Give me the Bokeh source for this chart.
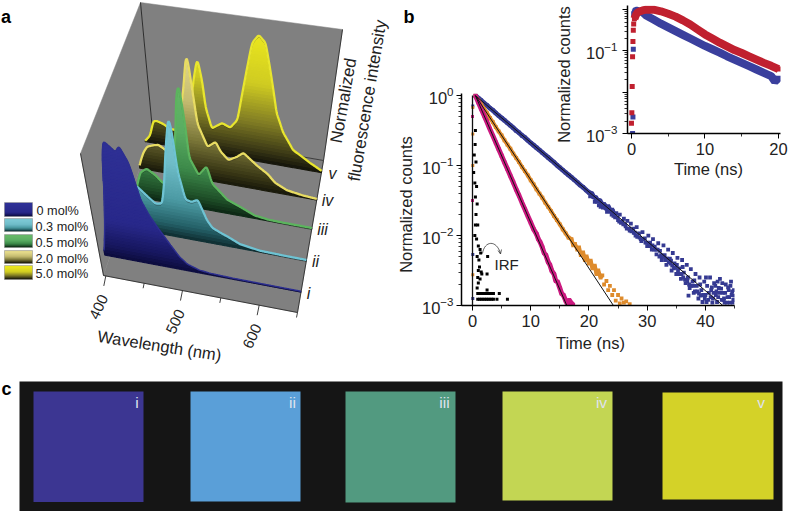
from bokeh.plotting import figure
from bokeh.models import Range1d, SingleIntervalTicker, LogTicker
from bokeh.core.properties import value
from bokeh.embed import file_html
from bokeh.resources import INLINE
import numpy as np

FONT = "Liberation Sans"

# ---------- panel a data: wavelength (nm), normalized intensity
w_i   = [390,397,403,408,412,418,425,430,439,448,456,465,480,490,500,515,530,560,600,650]
I_i   = [0.02,0.25,0.5,0.8,0.95,0.92,0.875,0.93,0.80,0.51,0.40,0.31,0.18,0.10,0.05,0.02,0.01,0.005,0.004,0.003]
w_ii  = [408,414,420,427,438,449,458,463,469,475,478,481,489,497,505,516,523,535,544,560,587,620,650]
I_ii  = [0.02,0.18,0.30,0.35,0.29,0.235,0.245,0.41,0.71,0.96,0.83,0.54,0.31,0.30,0.325,0.175,0.12,0.09,0.07,0.03,0.008,0.004,0.003]
w_iii = [405,410,415,424,435,445,452,460,467,470,474,480,482,494,505,512,532,550,570,590,610,650]
I_iii = [0.02,0.12,0.20,0.24,0.20,0.145,0.17,0.30,0.59,0.85,0.965,0.60,0.39,0.26,0.34,0.21,0.105,0.066,0.02,0.006,0.004,0.003]
w_iv  = [397,399,405,411,420,427,436,445,455,466,470,472,477,482,495,506,513,523.5,535,544,563,578,590,607,630,650]
I_iv  = [0.01,0.05,0.13,0.18,0.20,0.21,0.18,0.17,0.30,0.70,0.92,0.96,0.69,0.43,0.26,0.31,0.24,0.185,0.22,0.26,0.18,0.13,0.07,0.03,0.012,0.005]
w_v   = [392,400,407,412,421,430,440,450,460,467,472,478,481.5,490,504.5,516,526,533,542,550,559,567,579,590,606,632,650]
I_v   = [0.0,0.05,0.17,0.175,0.16,0.13,0.13,0.17,0.30,0.57,0.72,0.54,0.35,0.19,0.245,0.22,0.29,0.555,0.90,0.97,0.915,0.71,0.39,0.25,0.13,0.055,0.01]
roman = ["i","ii","iii","iv","v"]
depths = [0.134,0.34,0.55,0.74,0.92]
legend_labels = ["0 mol%","0.3 mol%","0.5 mol%","2.0 mol%","5.0 mol%"]
wave_ticks = [400,450,500,550,600,650]
wave_labels = ["400","500","600"]

# ---------- panel b data: time (ns), log10 of normalized counts
blue_t = [0.5,1,1.5,2,2.5,3,3.5,4,4.5,5,5.5,6,6.5,7,7.5,8,8.5,9,9.5,10,10.5,11,11.5,12,12.5,13,13.5,14,14.5,15,15.5,16,16.5,17,17.5,18,18.5,19,19.5,20,
  20.5,20.8,21.2,21.5,21.9,22.2,22.6,23,23.3,23.7,24,24.3,24.7,25,25.3,25.7,26,26.3,26.6,27,27.2,27.6,28,28.2,28.6,29,29.2,29.6,30,30.2,30.5,30.8,31,31.3,31.6,31.9,32.2,32.5,32.8,33,33.3,33.6,33.9,34.2,34.4,34.7,35,35.2,35.5,35.8,36,36.3,36.6,36.8,37,37.3,37.5,37.8,38,38.3,38.5,38.8,39,39.3,39.5,39.8,40,40.3,40.5,40.8,41,41.2,41.5,41.8,42,42.3,42.5,42.8,43,43.3,43.5,43.8,44,44.2,44.5,44.8,44.9]
blue_e = [0,-.035,-.07,-.108,-.14,-.18,-.21,-.25,-.285,-.32,-.355,-.39,-.425,-.46,-.5,-.53,-.57,-.6,-.64,-.675,-.71,-.745,-.78,-.815,-.85,-.885,-.92,-.955,-.995,-1.03,-1.065,-1.1,-1.135,-1.17,-1.205,-1.24,-1.28,-1.31,-1.35,-1.385,
  -1.40,-1.45,-1.46,-1.50,-1.50,-1.56,-1.55,-1.62,-1.58,-1.66,-1.63,-1.71,-1.68,-1.78,-1.70,-1.80,-1.76,-1.87,-1.79,-1.93,-1.83,-1.90,-2.00,-1.88,-1.97,-2.08,-1.95,-2.04,-2.15,-2.0,-2.1,-2.2,-2.05,-2.16,-2.27,-2.11,-2.22,-2.35,-2.14,-2.28,-2.42,-2.2,-2.33,-2.5,-2.25,-2.4,-2.55,-2.32,-2.47,-2.62,-2.35,-2.53,-2.68,-2.42,-2.6,-2.75,-2.48,-2.66,-2.82,-2.55,-2.72,-2.9,-2.6,-2.78,-2.95,-2.66,-2.85,-2.72,-2.92,-2.6,-2.78,-2.96,-2.68,-2.85,-2.95,-2.75,-2.62,-2.92,-2.82,-2.96,-2.7,-2.88,-2.78,-2.96,-2.85,-2.92,-2.78]
blue2_t = [20.2,20.7,21,21.4,21.7,22,22.4,22.8,23.1,23.5,23.9,24.2,24.5,24.9,25.2,25.5,25.9,26.2,26.5,26.9,27.3,27.7,27.9,28.3,28.7,28.9,29.3,29.7,29.9,30.3,30.6,30.9,31.2,31.5,31.8,32.1,32.4,32.7,33.1,33.4,33.7,34,34.3,34.6,34.9,35.3,35.6,35.9,36.2,36.5,36.9,37.2,37.6,37.9,38.2,38.6,38.9,39.2,39.6,39.9,40.2,40.6,40.9,41.1,41.4,41.7,41.9,42.2,42.4,42.7,42.9,43.2,43.4,43.7,43.9,44.1,44.3,44.6,44.7,44.95,
  37.1,38.1,39.1,40.1,41.3,42.1,43.1,44.4,36.1,35.1,34.1,33.2]
blue2_e = [-1.44,-1.44,-1.52,-1.52,-1.57,-1.59,-1.6,-1.6,-1.66,-1.64,-1.7,-1.72,-1.74,-1.74,-1.8,-1.82,-1.84,-1.84,-1.9,-1.9,-1.94,-1.96,-1.96,-2.02,-2.03,-2.05,-2.05,-2.1,-2.1,-2.13,-2.15,-2.14,-2.2,-2.2,-2.2,-2.3,-2.28,-2.3,-2.35,-2.33,-2.38,-2.4,-2.43,-2.47,-2.46,-2.5,-2.55,-2.55,-2.6,-2.63,-2.65,-2.7,-2.72,-2.72,-2.8,-2.8,-2.83,-2.86,-2.85,-2.9,-2.95,-2.82,-2.88,-2.74,-2.82,-2.72,-2.8,-2.88,-2.82,-2.76,-2.68,-2.9,-2.82,-2.96,-2.74,-2.88,-2.72,-2.8,-2.96,-2.86,
  -2.86,-2.64,-2.7,-2.6,-2.9,-2.66,-2.92,-2.66,-2.45,-2.42,-2.36,-2.33]
orange_t = [0.5,1,1.5,2,2.5,3,3.5,4,4.5,5,5.5,6,6.5,7,7.5,8,8.5,9,9.5,10,10.5,11,11.5,12,12.5,13,13.5,14,14.5,15,15.5,16,16.5,
  17,17.3,17.6,18,18.3,18.6,19,19.3,19.6,20,20.3,20.6,21,21.3,21.6,22,22.3,22.6,23,23.3,23.6,24,24.3,24.6,25,25.3,25.6,26,26.4,27]
orange_e = [0,-.06,-.13,-.19,-.25,-.32,-.38,-.45,-.51,-.57,-.64,-.7,-.76,-.83,-.89,-.95,-1.02,-1.08,-1.14,-1.21,-1.27,-1.34,-1.4,-1.46,-1.53,-1.59,-1.65,-1.72,-1.78,-1.84,-1.91,-1.97,-2.03,
  -2.05,-2.14,-2.12,-2.2,-2.17,-2.28,-2.24,-2.35,-2.3,-2.4,-2.36,-2.47,-2.43,-2.55,-2.5,-2.6,-2.57,-2.7,-2.65,-2.78,-2.72,-2.85,-2.78,-2.93,-2.85,-2.97,-2.9,-2.96,-2.94,-2.98]
magenta_t = [0.5,1,1.5,2,2.5,3,3.5,4,4.5,5,5.5,6,6.5,7,7.5,8,8.5,9,9.5,10,10.5,
  11,11.3,11.6,12,12.3,12.6,13,13.3,13.6,14,14.3,14.6,15,15.3,15.6,16,16.3,16.6,17,17.3]
magenta_e = [0,-.095,-.19,-.285,-.38,-.48,-.575,-.67,-.765,-.86,-.955,-1.05,-1.145,-1.24,-1.34,-1.43,-1.53,-1.625,-1.72,-1.815,-1.91,
  -1.98,-2.05,-2.09,-2.17,-2.25,-2.28,-2.38,-2.42,-2.5,-2.55,-2.65,-2.66,-2.75,-2.83,-2.85,-2.93,-2.98,-2.92,-2.97,-2.99]
rise_blue_e = [-0.15,-2.27,-2.9]
rise_orange_e = [-0.17,-0.55,-1.0,-2.56]
rise_magenta_e = [-0.3,-1.5]
irf_t = [.5,.45,.3,.6,.2,.4,.7,.5,.8,.6,.5,.4,.9,.7,1.0,1.3,.8,1.4,1.1,2.6,1.2,1.0,1.5,.9,1.3,1.6,2.5,1.0,.8,2.5,
  .9,1.2,1.5,1.8,2.1,2.4,2.7,3.0,3.3,3.6,4.6,.9,1.2,1.5,1.8,2.1,2.4,2.7,3.0,3.3,3.6,4.2,6.0]
irf_e = [-.5,-.7,-.85,-.95,-1.1,-1.25,-1.3,-1.45,-1.55,-1.7,-1.85,-2.0,-1.85,-2.05,-2.15,-2.2,-2.3,-2.25,-2.35,-2.3,-2.45,-2.5,-2.52,-2.6,-2.62,-2.55,-2.55,-2.68,-2.75,-2.78,
  -2.83,-2.83,-2.83,-2.83,-2.83,-2.83,-2.83,-2.83,-2.83,-2.83,-2.83,-2.91,-2.91,-2.91,-2.91,-2.91,-2.91,-2.91,-2.91,-2.91,-2.91,-2.91,-2.91]
fit_blue_t = [0.5,43.0];    fit_blue_e = [0,-3]
fit_orange_t = [0.5,24.2];  fit_orange_e = [0,-3]
fit_magenta_t = [0.5,16.2]; fit_magenta_e = [0,-3]

ins_blue_t = [.15,.2,.25,.3,.4,.6,.8,1,1.5,2,3,4,5,6,7,8,9,10,11,12,13,14,15,16,17,18,19,19.5,20]
ins_blue_e = [-3,-2.6,-.96,-.1,-.05,-.03,-.03,-.04,-.06,-.14,-.24,-.34,-.43,-.52,-.61,-.70,-.79,-.88,-.96,-1.04,-1.13,-1.21,-1.29,-1.37,-1.45,-1.53,-1.61,-1.74,-1.66]
ins_red_t = [.0,.05,.1,.15,.2,.25,.3,.4,.6,.8,1,1.5,2,2.5,3,4,5,6,7,8,9,10,11,12,13,14,15,16,17,18,19,20]
ins_red_e = [-2.75,-2.5,-1.86,-1.14,-.77,-.5,-.35,-.22,-.13,-.08,-.05,-.02,0,0,0,-.04,-.1,-.17,-.26,-.36,-.48,-.6,-.7,-.8,-.89,-.98,-1.05,-1.13,-1.21,-1.29,-1.36,-1.44]

# ---------- panel c data
tile_left = [33,190,345,502,662]
tile_right = [143,300,455,612,773]
tile_top = [391,391,391,391,392]
tile_bottom = [501.5,501,502,500,499]
tile_colors = ["#3c3692","#5a9fd8","#529a80","#c3d653","#d4d228"]
tile_label_x = [136.5,292,444,601,760.5]

# ---------- 3-D projection of panel a (wall geometry, screen pixels)
D=np.array([103.,275.]); G=np.array([297.,312.]); C=np.array([152.,130.]); F=np.array([323.,160.])
def project(w, z, d):
    f=(np.asarray(w,float)-397)/253.0
    z=np.asarray(z,float)
    bx=(1-d)*(D[0]+f*(G[0]-D[0]))+d*(C[0]+f*(F[0]-C[0]))
    by=(1-d)*(D[1]+f*(G[1]-D[1]))+d*(C[1]+f*(F[1]-C[1]))
    vx=-23+11*d+31*f
    vy=-122-6*d-2.5*f
    return bx+z*vx, by+z*vy

def lerp_color(stops, z):
    zs=[s[0] for s in stops]
    out=[]
    for k in (1,3,5):
        out.append(np.interp(z,zs,[int(s[1][k:k+2],16) for s in stops]))
    return "#%02x%02x%02x"%tuple(int(round(v)) for v in out)

cmaps=[
 [(0,"#0c0c3c"),(.1,"#17175f"),(.3,"#28288a"),(1,"#2f3196")],
 [(0,"#0d2a2e"),(.1,"#245f66"),(.3,"#4b9aa3"),(.6,"#70bdc9"),(1,"#7cc8d4")],
 [(0,"#0c2513"),(.1,"#1f5029"),(.3,"#3d8a4a"),(.6,"#5aad62"),(1,"#66b868")],
 [(0,"#17170a"),(.1,"#3a3816"),(.3,"#7a7638"),(.6,"#c4bb70"),(1,"#e6dc8c")],
 [(0,"#12120a"),(.1,"#3c3a16"),(.3,"#807c24"),(.6,"#cfcb22"),(1,"#ece81e")],
]
line_cols=["#2d2f90","#6ec3d3","#5cb45e","#e8dc62","#e8e52e"]
spectra=[(w_i,I_i),(w_ii,I_ii),(w_iii,I_iii),(w_iv,I_iv),(w_v,I_v)]

def at(x,y):
    return {"position":"absolute","left":f"{x}px","top":f"{y}px"}

bg=figure(width=788,height=511,x_range=Range1d(0,788),y_range=Range1d(511,0),
          output_backend="svg",toolbar_location=None,min_border=0,
          x_axis_location=None,y_axis_location=None,styles=at(0,0))
bg.grid.visible=False
bg.outline_line_color=None
bg.background_fill_color="white"

GRAY="#808080"
def wall(pts):
    bg.patch([p[0] for p in pts],[p[1] for p in pts],fill_color=GRAY,line_color=GRAY,line_width=.5)
A=(80,153); B=(140,2); E=(342,29)
wall([A,B,tuple(C),tuple(D)])
wall([B,E,tuple(F),tuple(C)])
wall([tuple(D),tuple(G),tuple(F),tuple(C)])
bg.line([B[0],C[0]],[B[1],C[1]],line_color="#222222",line_width=.9)
bg.line([A[0],D[0],G[0],F[0],E[0]],[A[1],D[1],G[1],F[1],E[1]],line_color="#2b2b2b",line_width=.9)
bg.line([C[0]+(F[0]-C[0])*.82,F[0]],[C[1]+(F[1]-C[1])*.82,F[1]],line_color="#333333",line_width=.9)

kernel=np.array([1,2,3,2,1.])/9
for (ws,Is),d,cm,lc in reversed(list(zip(spectra,depths,cmaps,line_cols))):
    grid=np.arange(min(ws),651,1.0)
    vals=np.interp(grid,ws,Is)
    vals=np.convolve(np.r_[[vals[0]]*2,vals,[vals[-1]]*2],kernel,mode="valid")
    xs,ys,cs=[],[],[]
    levels=np.linspace(0,1,41)
    for lo,hi in zip(levels[:-1],levels[1:]):
        if vals.max()<=lo: break
        up=np.minimum(vals,hi); dn=np.minimum(vals,lo)
        idx=np.where(vals>lo)[0]
        for run in np.split(idx,np.where(np.diff(idx)>1)[0]+1):
            a=max(run[0]-1,0); b=min(run[-1]+2,len(grid))
            ux,uy=project(grid[a:b],up[a:b],d); dx,dy=project(grid[a:b],dn[a:b],d)
            xs.append(np.r_[ux,dx[::-1]].tolist())
            ys.append(np.r_[uy,dy[::-1]].tolist())
            cs.append(lerp_color(cm,(lo+hi)/2))
    bg.patches(xs,ys,fill_color=cs,line_color=cs,line_width=1.1)
    lx,ly=project(grid,vals,d)
    if d>.2:
        bg.line(lx,ly+1,line_color="#202020",line_alpha=.45,line_width=1)
    bg.line(lx,ly-.5,line_color=lc,line_width=2.3 if d>.2 else 1.4)

# front ticks
for t in wave_ticks:
    x0,y0=project(t,0,0)
    ln=10 if t%100==0 else 5
    bg.line([x0,x0-.2*ln],[y0,y0+ln],line_color="#2b2b2b",line_width=.9)
lab_x,lab_y=project(np.array(wave_labels,float),0,0)
bg.text(lab_x-7,lab_y+31,text=wave_labels,angle=np.radians(65),text_font=value(FONT),text_font_size="15px",
        text_align="center",text_baseline="middle",text_color="#222222")
TXT="#222222"
def label(x,y,s,size=16,angle=0,style="normal",color=TXT,align="center",base="middle"):
    bg.text([x],[y],text=[s],angle=np.radians(angle),text_font=value(FONT),text_font_size=f"{size}px",
            text_font_style=style,text_align=align,text_baseline=base,text_color=color)
label(159,345,"Wavelength (nm)",16.5,-8.9)
label(343,100,"Normalized",17,80)
label(367,100,"fluorescence intensity",17,80.5)
for s,x,y in zip(roman,[308,315,322,327,332],[293,261,229,200,173]):
    label(x,y,s,16,0,"italic")
# legend
lx0,lx1=4,32
for k,(lab,cm,yt,yb) in enumerate(zip(legend_labels,cmaps,[202,218,234,250,265],[216,231,247,263,279])):
    ypix=np.arange(yt,yb)
    frac=1-(ypix-yt)/(yb-yt-1)
    bg.quad(left=lx0,right=lx1,top=ypix,bottom=np.minimum(ypix+1.7,yb),
            fill_color=[lerp_color(cm,(fr*1.1 if fr<.9 else 2.0-fr*1.1)) for fr in frac],line_color=None)
    bg.quad(left=[lx0],right=[lx1],top=[yt],bottom=[yb],fill_alpha=0,line_color="#9a9a9a",line_width=.6)
    label(35 if k else 36,yt+8.5,lab,12.7,0,"normal",TXT,"left")
label(0.5,16,"a",18,0,"bold","black","left","alphabetic")
label(403,16,"b",18,0,"bold","black","left","alphabetic")
label(1,388,"c",18,0,"bold","black","left","alphabetic")
# IRF annotation and axis titles of panel b
label(494,264,"IRF",15,0,"normal",TXT,"left")
bg.bezier(x0=[482],y0=[253],x1=[500],y1=[253],cx0=[484],cy0=[240],cx1=[496],cy1=[239],line_color="#222222",line_width=.7)
bg.line([497.5,500,501],[250,253.5,249],line_color="#222222",line_width=.7)
label(563,74,"Normalized counts",16.5,90)
label(405,204,"Normalized counts",16.5,90)
label(590,342,"Time (ns)",16.5)
label(708,168,"Time (ns)",16.5)
# panel c
bg.quad(left=[19],right=[782],top=[381],bottom=[511],fill_color="#151515",line_color=None)
bg.quad(left=tile_left,right=tile_right,top=tile_top,bottom=tile_bottom,fill_color=tile_colors,line_color=None)
for s,x in zip(roman,tile_label_x):
    label(x,401.5,s,15.5,0,"normal","#dfe2ee")

def style_axes(p):
    p.grid.visible=False
    p.outline_line_color=None
    p.background_fill_alpha=0
    p.border_fill_alpha=0
    for ax in (p.xaxis[0],p.yaxis[0]):
        ax.axis_line_width=1.5; ax.axis_line_color="black"
        ax.major_tick_line_color="black"; ax.minor_tick_line_color="black"
        ax.major_tick_line_width=1; ax.minor_tick_line_width=.8
        ax.major_tick_in=0; ax.minor_tick_in=0
        ax.major_tick_out=5; ax.minor_tick_out=3
        ax.major_label_text_font=FONT
        ax.major_label_text_font_size="16.5px"
        ax.major_label_text_color=TXT
    p.xaxis[0].ticker=SingleIntervalTicker(interval=10,num_minor_ticks=2)
    p.yaxis[0].ticker=LogTicker(num_minor_ticks=10)

pw=10.0
# main decay panel
mx,my,mw,mh=391,85,349,270
main=figure(width=mw,height=mh,x_range=Range1d(-1.89,45),y_range=Range1d(1e-3,10**0.03),y_axis_type="log",
            output_backend="svg",toolbar_location=None,min_border_left=461-mx,min_border_right=mx+mw-734,
            min_border_top=93-my,min_border_bottom=my+mh-305,styles=at(mx,my))
style_axes(main)
main.xaxis[0].major_label_standoff=4
main.yaxis[0].major_label_standoff=3
def curve(p,ts,es,col,size,band=0,n=None):
    v=pw**np.array(es,float)
    if band:
        p.line(ts[:n],v[:n],line_color=col,line_width=band)
    p.scatter(ts,v,marker="square",size=size,fill_color=col,line_color=None)
BLUE="#353a92";MAG="#cc1a80";ORG="#de8b2c"
curve(main,blue_t,blue_e,BLUE,3.8,5,52)
curve(main,blue2_t,blue2_e,BLUE,3.8)
curve(main,orange_t,orange_e,ORG,3.8,4,50)
curve(main,magenta_t,magenta_e,MAG,3.8,5)
curve(main,[.05]*len(rise_blue_e),rise_blue_e,BLUE,3)
curve(main,[.05]*len(rise_orange_e),rise_orange_e,ORG,3)
curve(main,[.0]*len(rise_magenta_e),rise_magenta_e,MAG,3)
main.line([0,0],[1e-3,1],line_color="#111111",line_width=1.3)
curve(main,irf_t,irf_e,"black",3)
for ts,es in ((fit_blue_t,fit_blue_e),(fit_orange_t,fit_orange_e),(fit_magenta_t,fit_magenta_e)):
    main.line(ts,pw**np.array(es,float),line_color="#111111",line_width=1)

# inset
ix,iy,iw,ih=572,0,216,178
inset=figure(width=iw,height=ih,x_range=Range1d(-0.54,20.27),y_range=Range1d(1e-3,10**0.1),y_axis_type="log",
             output_backend="svg",toolbar_location=None,min_border_left=627-ix,min_border_right=ix+iw-780,
             min_border_top=5-iy,min_border_bottom=iy+ih-133,styles=at(ix,iy))
style_axes(inset)
inset.yaxis[0].major_label_overrides={1:"",0.01:""}
inset.xaxis[0].major_label_standoff=4
curve(inset,ins_blue_t,ins_blue_e,"#3a3f9d",5)
inset.line(ins_blue_t[4:],pw**np.array(ins_blue_e[4:]),line_color="#3a3f9d",line_width=8)
curve(inset,ins_red_t,ins_red_e,"#c0202f",5)
inset.line(ins_red_t[7:],pw**np.array(ins_red_e[7:]),line_color="#c0202f",line_width=8)

open("out.html","w").write(file_html([bg,main,inset],INLINE))
